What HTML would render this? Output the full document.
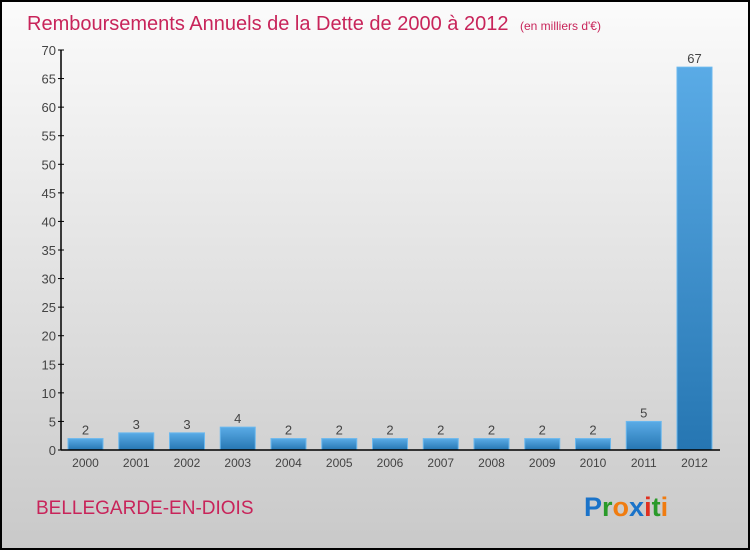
<!DOCTYPE html>
<html><head><meta charset="utf-8"><style>
body{margin:0;}
#c{width:750px;height:550px;position:relative;font-family:"Liberation Sans",sans-serif;}
</style></head><body>
<div id="c">
<svg id="s" width="750" height="550" xmlns="http://www.w3.org/2000/svg">
<defs>
<linearGradient id="bg" x1="0" y1="0" x2="0" y2="1"><stop offset="0" stop-color="#fbfbfb"/><stop offset="1" stop-color="#c9c9c9"/></linearGradient>
<linearGradient id="bar" x1="0" y1="0" x2="0" y2="1"><stop offset="0" stop-color="#5aabe6"/><stop offset="1" stop-color="#2676b2"/></linearGradient>
</defs>
<rect x="1" y="1" width="748" height="548" fill="url(#bg)" stroke="#000" stroke-width="2"/>
<text x="27" y="30" font-size="20" fill="#c8245a">Remboursements Annuels de la Dette de 2000 à 2012 <tspan font-size="12" dx="6">(en milliers d'€)</tspan></text>
<text x="36" y="514" font-size="19" fill="#c8245a">BELLEGARDE-EN-DIOIS</text>
<text x="584" y="516" font-size="27" font-weight="bold"><tspan fill="#1a73c9">P</tspan><tspan fill="#2a9a2a">r</tspan><tspan fill="#f07c10">o</tspan><tspan fill="#1a73c9">x</tspan><tspan fill="#e03020">i</tspan><tspan fill="#2a9a2a">t</tspan><tspan fill="#f07c10">i</tspan></text>
<g id="g"></g>
</svg>
</div>
<script>
const categories=["2000","2001","2002","2003","2004","2005","2006","2007","2008","2009","2010","2011","2012"];
const values=[2,3,3,4,2,2,2,2,2,2,2,5,67];
const yTicks=[0,5,10,15,20,25,30,35,40,45,50,55,60,65,70];
const NS="http://www.w3.org/2000/svg";
const g=document.getElementById('g');
const y0=450,yTop=50,yMax=70,x0=61,step=50.75,bw=35,bx0=68;
const yS=v=>y0-(v/yMax)*(y0-yTop);
const xS=i=>bx0+i*step;
function mk(t,a){const e=document.createElementNS(NS,t);for(const k in a)e.setAttribute(k,a[k]);g.appendChild(e);return e;}
yTicks.forEach(t=>{
 const l=mk('line',{x1:x0-3,x2:x0+3,y1:yS(t),y2:yS(t),stroke:'#000'});
 
 
 const tx=mk('text',{x:x0-5,y:yS(t)+5,'text-anchor':'end','font-size':13,fill:'#444'});
 tx.textContent=t;
 
 
});
values.forEach((v,i)=>{
 const r=mk('rect',{x:xS(i),y:yS(v),width:bw,height:y0-yS(v),fill:'url(#bar)',stroke:'#6bb8ee','stroke-width':1});
 
 
 const vl=mk('text',{x:xS(i)+bw/2,y:yS(v)-4,'text-anchor':'middle','font-size':13,fill:'#444'});
 vl.textContent=v;
 
 
 const cl=mk('text',{x:xS(i)+bw/2,y:467,'text-anchor':'middle','font-size':12,fill:'#444'});
 cl.textContent=categories[i];
 
 
});
const ya=mk('line',{x1:x0,x2:x0,y1:yTop,y2:y0,stroke:'#000','stroke-width':1.5});


const xa=mk('line',{x1:x0,x2:720,y1:y0,y2:y0,stroke:'#000','stroke-width':1.5});


</script>
</body></html>
